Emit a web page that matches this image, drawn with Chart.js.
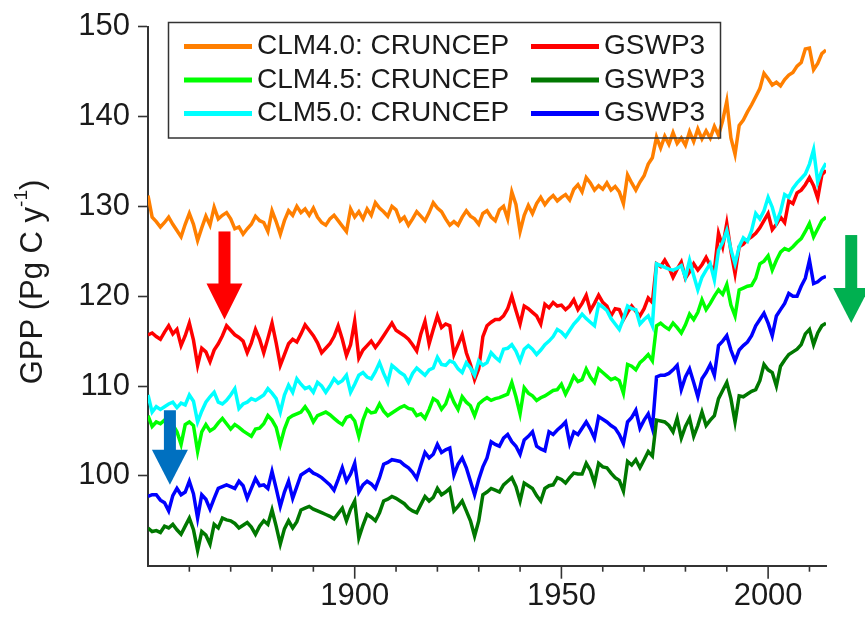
<!DOCTYPE html>
<html>
<head>
<meta charset="utf-8">
<script src="https://cdn.jsdelivr.net/npm/chart.js@4.4.1/dist/chart.umd.min.js"></script>
<style>
  html, body { margin: 0; padding: 0; background: #fff; }
  #wrap { width: 865px; height: 617px; }
</style>
</head>
<body>
<div id="wrap"><canvas id="gpp" width="865" height="617"></canvas></div>
<script>
// years 1850..2014
const years = Array.from({ length: 165 }, (_, i) => 1850 + i);

// CLM4.0 CRUNCEP
const clm40Cru = [
  131.2, 128.8, 128.3, 127.7, 128.2, 128.8, 128.0, 127.3, 126.6, 128.0,
  129.2, 128.0, 126.2, 127.6, 128.9, 127.9, 129.9, 128.6, 129.0, 129.3,
  128.6, 127.5, 127.7, 126.9, 127.5, 128.0, 128.9, 128.4, 128.2, 127.2,
  129.5, 128.3, 126.9, 128.4, 129.5, 129.0, 130.0, 129.3, 129.7, 129.0,
  129.8, 128.8, 128.2, 127.9, 128.6, 129.0, 128.4, 127.8, 127.2, 129.7,
  128.8, 129.4, 128.6, 129.7, 129.0, 130.4, 129.8, 129.4, 128.9, 130.0,
  129.6, 128.4, 128.8, 127.9, 128.6, 129.4, 128.9, 128.4, 129.3, 130.4,
  129.8, 129.4, 128.6, 127.9, 128.3, 127.9, 128.8, 129.5, 128.9, 128.6,
  128.0, 129.2, 129.5, 128.8, 128.4, 129.6, 130.0, 128.6, 131.6, 130.2,
  127.2, 129.0, 130.1, 129.2, 130.3, 131.0, 130.2, 130.8, 131.2, 130.6,
  131.0, 131.3, 130.7, 131.9, 132.4, 131.6, 133.2, 132.6, 131.8, 132.3,
  131.9, 132.6, 131.8, 132.2, 131.6, 130.3, 133.5, 132.6, 131.8, 132.7,
  133.4, 134.7, 135.4, 137.7, 136.5, 137.8, 136.9, 138.2, 137.0, 137.6,
  136.8, 138.3, 137.2, 138.6, 137.5, 138.4, 137.6, 138.9, 137.9, 139.5,
  141.7, 137.6, 135.8, 139.0, 139.6, 140.5, 141.3, 142.2, 143.1, 144.8,
  144.2, 143.5, 143.8, 143.4, 144.1, 144.6, 144.9, 145.6, 146.0, 147.5,
  147.6, 145.2, 145.9, 147.0, 147.4
];

// CLM4.5 CRUNCEP
const clm45Cru = [
  106.7, 105.5, 106.0, 105.8, 106.2, 106.0, 105.7, 104.9, 103.5, 105.7,
  106.0, 105.6, 102.7, 104.9, 105.7, 105.0, 105.3, 105.9, 106.4, 105.8,
  105.2, 105.7, 105.4, 105.0, 104.7, 104.4, 105.2, 105.3, 105.8, 106.7,
  106.2, 105.4, 103.5, 105.2, 106.4, 106.7, 106.9, 107.1, 107.7, 107.0,
  106.0, 106.7, 106.9, 107.1, 106.8, 106.4, 106.0, 105.7, 106.5, 106.7,
  106.1, 104.4, 106.2, 107.4, 107.0, 107.1, 108.0, 107.2, 106.7, 107.0,
  107.3, 107.6, 107.8, 107.5, 107.4, 106.7, 106.9, 106.4, 107.4, 108.6,
  108.3, 107.4, 108.0, 109.3, 108.2, 107.4, 108.8, 108.2, 107.8, 106.7,
  108.0, 108.4, 108.7, 108.4, 108.6, 108.7, 108.9, 109.1, 110.4, 108.8,
  106.9, 109.8, 109.2, 108.9, 108.4, 108.7, 108.9, 109.2, 109.5, 109.6,
  110.2, 109.1, 110.0, 111.1, 110.5, 110.7, 111.9, 111.0, 110.4, 111.9,
  111.5, 111.1, 110.7, 110.9, 110.6, 109.2, 112.4, 112.2, 111.8, 112.6,
  113.0, 113.5, 112.8, 116.7, 117.0, 116.6, 116.3, 117.0, 116.5, 115.9,
  116.8, 118.0, 117.4, 118.2, 119.6, 118.5, 119.2, 120.0, 120.7, 120.2,
  121.3, 119.0, 117.8, 120.7, 120.9, 121.1, 121.2, 122.0, 123.6, 123.9,
  124.5, 122.9, 124.0, 124.9, 125.3, 125.1, 125.5, 126.0, 126.4, 127.2,
  128.1, 126.6, 127.5, 128.4, 128.8
];

// CLM5.0 CRUNCEP
const clm50Cru = [
  109.0, 107.1, 107.7, 107.4, 107.7, 108.0, 108.2, 107.6, 108.1, 107.9,
  109.0, 108.3, 106.0, 107.2, 108.2, 108.8, 109.3, 108.2, 108.0, 108.4,
  109.0, 109.7, 107.5, 108.0, 108.2, 108.6, 108.4, 108.7, 109.0, 109.7,
  109.2, 108.6, 107.1, 109.0, 110.1, 109.3, 110.8, 110.2, 109.7, 109.9,
  109.3, 110.4, 110.0, 109.3, 110.0, 110.8, 110.3, 110.6, 111.2, 109.3,
  110.2, 111.2, 111.5, 111.0, 110.8, 111.6, 112.6, 111.4, 110.4, 112.3,
  111.9, 111.5, 111.2, 110.4, 111.4, 112.0, 111.6, 111.2, 111.8, 112.0,
  113.2, 112.4, 112.3, 112.8, 112.6, 111.9, 111.5, 112.6, 112.0, 111.2,
  112.8, 112.3, 112.6, 113.7, 113.2, 112.8, 114.1, 114.2, 114.6, 113.9,
  112.8, 114.1, 114.5, 114.1, 113.5, 114.0, 114.6, 115.0, 115.5, 116.3,
  116.0, 115.5, 116.2, 116.9, 117.4, 118.0, 117.5, 117.1, 116.7, 119.1,
  118.8, 118.4, 117.5, 116.9, 116.3, 117.5, 118.9, 118.6, 118.5, 116.9,
  117.4, 117.8, 116.7, 123.6, 123.4, 123.2, 123.0, 122.9, 123.1, 123.4,
  122.1, 124.0, 122.3, 120.7, 122.1, 122.9, 123.6, 121.8, 125.1, 126.0,
  127.3, 125.2, 123.6, 125.5, 126.5, 126.1, 127.3, 129.2, 128.6, 129.5,
  131.0, 129.9, 128.2, 129.4, 131.3, 131.0, 132.0, 132.6, 133.1, 133.6,
  134.7, 136.3, 132.7, 134.0, 134.8
];

// CLM4.0 GSWP3
const clm40Gsw = [
  115.7, 115.9, 115.5, 115.2, 116.0, 116.7, 115.8, 116.3, 114.5, 115.6,
  117.0, 115.1, 112.3, 114.2, 113.8, 112.7, 114.0, 114.7, 115.6, 116.7,
  116.2, 115.7, 115.4, 115.0, 113.7, 114.8, 116.3, 115.2, 113.7, 115.3,
  117.0, 114.8, 112.3, 113.5, 114.7, 115.2, 114.9, 115.8, 116.8, 116.2,
  115.6, 114.8, 113.7, 114.2, 114.7, 115.5, 116.7, 115.2, 113.4, 114.6,
  117.2, 113.1, 114.0, 114.5, 115.0, 114.3, 114.9, 115.6, 116.3, 117.0,
  116.2, 115.9, 115.6, 115.2, 114.6, 113.9, 115.8, 117.2, 114.7, 116.3,
  117.8, 116.5, 116.9, 116.7, 113.5, 114.6, 115.7, 113.7, 112.4, 110.7,
  111.9, 115.5, 116.7, 117.1, 117.4, 117.4, 117.8, 118.6, 120.0, 118.4,
  116.9, 118.9, 118.6, 118.2, 117.8, 116.9, 119.1, 118.7, 119.3, 118.9,
  119.0, 118.5, 118.9, 119.6, 118.5, 119.2, 120.1, 118.4, 119.2, 120.1,
  119.3, 118.9, 117.8, 118.6, 118.5, 117.4, 118.2, 118.9, 118.3, 117.8,
  118.6, 119.8, 119.3, 123.6, 123.3, 124.0, 123.2, 122.1, 123.0, 123.8,
  122.0, 122.7, 123.6, 122.9, 123.5, 124.3, 123.4, 122.9, 127.0, 125.5,
  128.1, 125.0, 122.5, 125.5, 125.8, 126.3, 126.6, 127.0, 127.6, 128.4,
  129.2, 127.4, 128.0, 128.8, 128.2, 130.6, 130.3, 131.5, 131.8, 132.4,
  133.2, 132.3, 130.9, 133.5, 134.0
];

// CLM4.5 GSWP3
const clm45Gsw = [
  94.2, 93.8, 93.9, 93.7, 94.4, 94.2, 94.6, 94.0, 93.5, 94.4,
  95.3, 94.0, 91.7, 93.8, 93.4, 92.4, 94.6, 94.2, 95.3, 95.1,
  95.0, 94.7, 94.2, 94.5, 94.8, 94.3, 93.5, 94.4, 95.0, 94.6,
  96.2, 94.4, 92.4, 94.1, 95.0, 94.2, 94.9, 96.2, 96.4, 96.6,
  96.3, 96.1, 95.9, 95.7, 95.5, 95.2, 95.8, 96.4, 95.0, 96.3,
  97.2, 93.1, 94.5, 95.7, 95.4, 95.0, 95.9, 97.2, 97.4, 97.7,
  97.5, 97.2, 96.9, 96.4, 96.1, 95.9, 96.8, 97.7, 97.2, 97.6,
  98.6, 97.9, 98.2, 98.6, 96.1, 96.6, 97.2, 96.1, 95.0, 93.3,
  95.0, 97.9, 98.2, 98.6, 98.4, 98.2, 99.0, 99.4, 99.8, 98.8,
  97.2, 99.2, 98.9, 98.6, 97.8, 97.2, 98.6, 98.9, 99.0, 99.8,
  99.6, 99.2, 99.8, 100.3, 100.2, 100.2, 101.4, 100.6, 99.2, 101.4,
  101.0, 100.9, 100.3, 99.8, 99.5, 98.3, 101.6, 101.2, 101.8, 100.9,
  101.8, 102.7, 102.2, 106.2, 106.1, 106.0, 105.6, 104.9, 106.4, 104.2,
  105.5, 106.4, 104.4, 105.6, 107.1, 105.6, 106.2, 106.7, 108.6, 109.5,
  110.4, 108.6, 106.0, 108.9, 108.8, 109.1, 109.4, 109.6, 110.6, 112.4,
  111.8, 111.5, 110.0, 112.2, 112.9, 113.5, 113.8, 114.1, 114.6, 115.8,
  116.3, 114.6, 115.9, 116.7, 117.0
];

// CLM5.0 GSWP3
const clm50Gsw = [
  97.7, 97.9, 97.9, 97.3, 97.0, 96.1, 97.8, 98.6, 97.9, 98.2,
  99.4, 98.0, 95.3, 97.9, 97.4, 96.3, 97.5, 98.6, 98.8, 99.0,
  98.8, 98.6, 99.4, 98.9, 97.5, 98.6, 99.7, 98.9, 99.0, 98.6,
  100.5, 98.6, 96.6, 98.2, 99.4, 97.5, 98.8, 100.1, 100.4, 100.7,
  100.3, 100.1, 99.8, 99.4, 99.0, 98.4, 99.6, 100.9, 99.4, 100.2,
  101.4, 98.2, 99.0, 99.4, 99.1, 98.6, 99.8, 101.3, 101.5, 101.8,
  101.7, 101.6, 101.2, 100.9, 100.4, 99.7, 101.2, 102.6, 102.0, 102.4,
  103.5, 102.6, 102.9, 103.1, 100.1, 101.3, 102.0, 100.9, 99.4, 97.9,
  99.6, 101.0, 102.0, 103.8, 103.5, 103.3, 104.2, 104.6, 103.8, 103.3,
  102.4, 104.0, 104.4, 104.9, 103.3, 103.0, 102.8, 104.9, 104.6, 105.1,
  105.5, 106.0, 103.6, 104.9, 104.6, 105.3, 106.0, 105.2, 104.2, 106.6,
  106.3, 106.0, 105.6, 105.3, 104.6, 103.6, 106.0, 106.5, 107.3, 105.3,
  106.2, 106.9, 105.3, 111.0, 111.2, 111.2, 111.4, 111.8, 112.3, 109.6,
  111.0, 111.9, 110.4, 108.8, 110.8, 111.5, 112.4, 111.2, 114.5, 115.0,
  115.6, 114.0, 112.8, 114.0, 114.5, 114.9, 115.6, 116.7, 117.4, 118.1,
  117.0, 115.6, 117.8, 118.5, 119.2, 120.3, 120.0, 120.0, 121.1, 122.0,
  124.0, 121.4, 121.6, 122.0, 122.2
];

const seriesLabels = ['CLM4.0: CRUNCEP', 'CLM4.5: CRUNCEP', 'CLM5.0: CRUNCEP', 'GSWP3', 'GSWP3', 'GSWP3'];
const seriesColors = ['#ff7f00', '#00ff00', '#00ffff', '#ff0000', '#007800', '#0000ff'];
const seriesValues = [clm40Cru, clm45Cru, clm50Cru, clm40Gsw, clm45Gsw, clm50Gsw];
// cyan sits on top of red in the original
const drawOrder = [1, 1, 0, 1, 1, 1];

const yTicks = [100, 110, 120, 130, 140, 150];
const xTicks = [1860, 1870, 1880, 1890, 1900, 1910, 1920, 1930, 1940, 1950, 1960, 1970, 1980, 1990, 2000, 2010];
const xLabels = [1900, 1950, 2000];

// arrows in data units: x year, from top value down to tip value
const arrows = [
  { x: 1868.5, top: 127.2, base: 121.4, tip: 117.4, color: '#ff0000' },
  { x: 1855.3, top: 107.3, base: 102.9, tip: 99.0, color: '#0070c0' },
  { x: 2020.1, top: 126.8, base: 120.9, tip: 117.0, color: '#00b050' }
];

const FONT = '"Liberation Sans", Arial, sans-serif';

const extras = {
  id: 'extras',
  afterDraw(chart) {
    const { ctx, scales: { x, y } } = chart;
    ctx.save();

    // x tick marks (long at 50-year marks)
    ctx.strokeStyle = '#333';
    ctx.lineWidth = 1.6;
    xTicks.forEach(v => {
      const px = x.getPixelForValue(v);
      const len = v % 50 === 0 ? 13 : 6;
      ctx.beginPath();
      ctx.moveTo(px, y.bottom);
      ctx.lineTo(px, y.bottom + len);
      ctx.stroke();
    });

    // arrows
    arrows.forEach(a => {
      const cx = x.getPixelForValue(a.x);
      const top = y.getPixelForValue(a.top);
      const base = y.getPixelForValue(a.base);
      const tip = y.getPixelForValue(a.tip);
      ctx.fillStyle = a.color;
      ctx.fillRect(cx - 6, top, 12, base - top + 1);
      ctx.beginPath();
      ctx.moveTo(cx - 18, base);
      ctx.lineTo(cx + 18, base);
      ctx.lineTo(cx, tip);
      ctx.closePath();
      ctx.fill();
    });

    // legend box, two columns
    ctx.strokeStyle = '#333';
    ctx.lineWidth = 1.5;
    ctx.strokeRect(168.5, 22.5, 552, 115.5);
    ctx.font = '28px ' + FONT;
    ctx.textBaseline = 'middle';
    const ds = chart.data.datasets;
    ds.forEach((d, i) => {
      const col = Math.floor(i / 3), row = i % 3;
      const ly = 46.5 + row * 33.5;
      const lx = col === 0 ? 184 : 531;
      ctx.strokeStyle = d.borderColor;
      ctx.lineWidth = 5;
      ctx.beginPath();
      ctx.moveTo(lx, ly);
      ctx.lineTo(lx + 68, ly);
      ctx.stroke();
      ctx.fillStyle = '#1a1a1a';
      ctx.fillText(d.label, lx + 73, ly);
    });

    // y axis title with superscript
    ctx.translate(33, 282);
    ctx.rotate(-Math.PI / 2);
    const main = 'GPP (Pg C y', sup = '-1', close = ')';
    const bigF = '31px ' + FONT, smallF = '19px ' + FONT;
    ctx.font = bigF;
    const w1 = ctx.measureText(main).width, w3 = ctx.measureText(close).width;
    ctx.font = smallF;
    const w2 = ctx.measureText(sup).width;
    const sx = -(w1 + w2 + w3) / 2;
    ctx.fillStyle = '#1a1a1a';
    ctx.font = bigF;
    ctx.fillText(main, sx, 0);
    ctx.font = smallF;
    ctx.fillText(sup, sx + w1, -11);
    ctx.font = bigF;
    ctx.fillText(close, sx + w1 + w2, 0);
    ctx.restore();
  }
};

new Chart(document.getElementById('gpp'), {
  type: 'line',
  data: {
    datasets: seriesValues.map((vals, i) => ({
      label: seriesLabels[i],
      data: years.map((yr, j) => ({ x: yr, y: vals[j] })),
      borderColor: seriesColors[i],
      borderWidth: 3.5,
      pointRadius: 0,
      tension: 0,
      fill: false,
      order: drawOrder[i]
    }))
  },
  options: {
    responsive: false,
    animation: false,
    layout: { padding: { top: 21, right: 39, left: 0, bottom: 0 } },
    plugins: { legend: { display: false }, tooltip: { enabled: false } },
    scales: {
      x: {
        type: 'linear',
        min: 1850,
        max: 2014,
        afterBuildTicks: s => { s.ticks = xTicks.map(v => ({ value: v })); },
        afterFit: s => { s.height = 51.3; },
        grid: { display: true, drawOnChartArea: false, drawTicks: false },
        border: { display: true, color: '#333', width: 2 },
        ticks: {
          padding: 12,
          maxRotation: 0,
          autoSkip: false,
          color: '#1a1a1a',
          font: { family: FONT, size: 31 },
          callback: v => xLabels.includes(v) ? String(v) : ''
        }
      },
      y: {
        min: 90,
        max: 150,
        afterBuildTicks: s => { s.ticks = yTicks.map(v => ({ value: v })); },
        afterFit: s => { s.width = 148; },
        grid: { display: true, drawOnChartArea: false, drawTicks: true, tickLength: 10, tickColor: '#333', tickWidth: 1.6 },
        border: { display: true, color: '#333', width: 2 },
        ticks: {
          padding: 8,
          color: '#1a1a1a',
          font: { family: FONT, size: 31 }
        }
      }
    }
  },
  plugins: [extras]
});
</script>
</body>
</html>
